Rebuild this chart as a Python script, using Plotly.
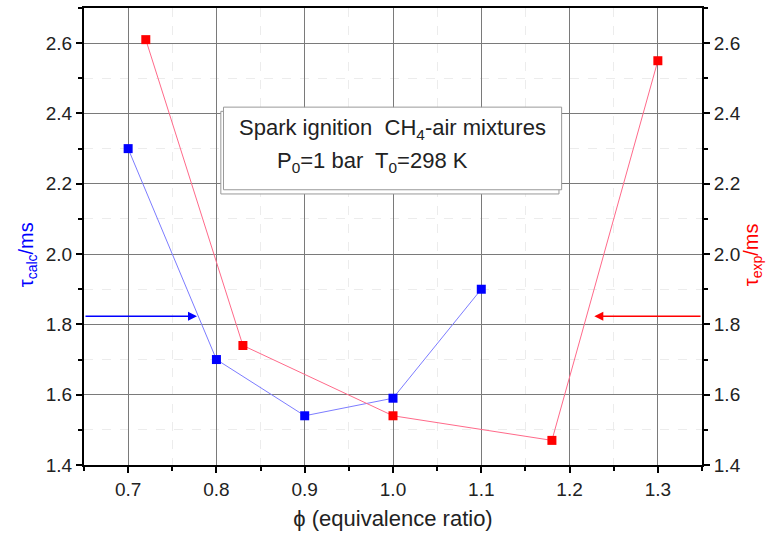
import plotly.graph_objects as go

# data
phi_calc = [0.7, 0.8, 0.9, 1.0, 1.1]
tau_calc = [2.30, 1.70, 1.54, 1.59, 1.90]
phi_exp = [0.72, 0.83, 1.0, 1.18, 1.3]
tau_exp = [2.61, 1.74, 1.54, 1.47, 2.55]

x_range = [0.65, 1.35]
y_range = [1.4, 2.7]
arrow_y = 1.823
arrow_calc_end = 0.778
arrow_exp_end = 1.228

FONT = "Liberation Sans, Arial, sans-serif"

fig = go.Figure()
fig.add_trace(go.Scatter(
    x=phi_calc, y=tau_calc, mode="lines+markers",
    line=dict(color="#7c7cff", width=1),
    marker=dict(symbol="square", size=9, color="#0000ff"),
    showlegend=False, yaxis="y"))
fig.add_trace(go.Scatter(
    x=phi_exp, y=tau_exp, mode="lines+markers",
    line=dict(color="#ff6a8a", width=1),
    marker=dict(symbol="square", size=9, color="#ff0000"),
    showlegend=False, yaxis="y2"))

axis_common = dict(
    showline=True, linecolor="black", linewidth=2,
    ticks="outside", ticklen=6, tickwidth=2, tickcolor="black",
    gridcolor="#7a7a7a", gridwidth=1,
    tickfont=dict(family=FONT, size=19, color="#222"),
    zeroline=False,
)

fig.update_layout(
    width=776, height=538,
    margin=dict(l=84, r=74, t=6, b=73),
    paper_bgcolor="white", plot_bgcolor="white",
    font=dict(family=FONT),
    xaxis=dict(
        range=x_range, dtick=0.1, tick0=0.7, tickformat=".1f",
        mirror=True, showgrid=True,
        minor=dict(dtick=0.05, ticks="outside", ticklen=4, tickwidth=2, tickcolor="black",
                   showgrid=True, gridcolor="#ececec", griddash="dash"),
        title=dict(text="\u03d5 (equivalence ratio)", font=dict(family=FONT, size=22, color="#222"),
                   standoff=12),
        **axis_common),
    yaxis=dict(
        range=y_range, dtick=0.2, tick0=1.4, tickformat=".1f", showgrid=True,
        minor=dict(dtick=0.1, ticks="outside", ticklen=4, tickwidth=2, tickcolor="black",
                   showgrid=True, gridcolor="#ececec", griddash="dash"),
        **axis_common),
    yaxis2=dict(
        range=y_range, dtick=0.2, tick0=1.4, tickformat=".1f",
        overlaying="y", side="right", showgrid=False,
        minor=dict(dtick=0.1, ticks="outside", ticklen=4, tickwidth=2, tickcolor="black"),
        **axis_common),
)

# axis titles (placed slightly below the centre as in the reference)
fig.add_annotation(x=0, y=0.46, xref="paper", yref="paper", xshift=-71,
                   text="\u03c4<sub>calc</sub>/ms", textangle=-90, showarrow=False,
                   font=dict(family=FONT, size=20, color="#0000ff"))
fig.add_annotation(x=1, y=0.46, xref="paper", yref="paper", xshift=65,
                   text="\u03c4<sub>exp</sub>/ms", textangle=-90, showarrow=False,
                   font=dict(family=FONT, size=20, color="#ff0000"))

# text box with shadow
box_x0, box_x1 = 0.808, 1.191
box_y0, box_y1 = 2.183, 2.418
fig.add_shape(type="rect", xref="x", yref="y",
              x0=box_x0 - 0.003, x1=box_x1 - 0.003, y0=box_y0 - 0.012, y1=box_y1 - 0.012,
              line=dict(color="#999", width=1), fillcolor="white", layer="above")
fig.add_shape(type="rect", xref="x", yref="y",
              x0=box_x0, x1=box_x1, y0=box_y0, y1=box_y1,
              line=dict(color="#999", width=1), fillcolor="white", layer="above")
fig.add_annotation(x=(box_x0 + box_x1) / 2, y=2.357, xref="x", yref="y",
                   text="Spark ignition  CH<sub>4</sub>-air mixtures", showarrow=False,
                   font=dict(family=FONT, size=22, color="#222"))
fig.add_annotation(x=0.977, y=2.262, xref="x", yref="y", xanchor="center",
                   text="P<sub>0</sub>=1 bar  T<sub>0</sub>=298 K", showarrow=False,
                   font=dict(family=FONT, size=22, color="#222"))

# arrows
fig.add_annotation(x=arrow_calc_end, y=arrow_y, ax=x_range[0], ay=arrow_y,
                   xref="x", yref="y", axref="x", ayref="y", text="",
                   showarrow=True, arrowhead=2, arrowsize=1.2, arrowwidth=1.5, arrowcolor="#0000ff")
fig.add_annotation(x=arrow_exp_end, y=arrow_y, ax=x_range[1], ay=arrow_y,
                   xref="x", yref="y", axref="x", ayref="y", text="",
                   showarrow=True, arrowhead=2, arrowsize=1.2, arrowwidth=1.5, arrowcolor="#ff0000")

fig.write_html("out.html")
